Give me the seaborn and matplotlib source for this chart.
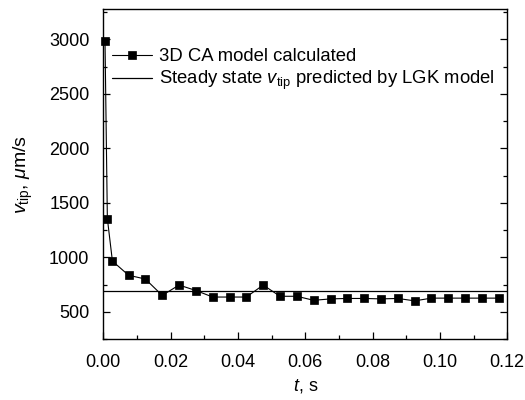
import matplotlib
matplotlib.use("Agg")
import matplotlib.pyplot as plt
import seaborn as sns
import pandas as pd
from matplotlib.ticker import MultipleLocator

t_values = [0.0005, 0.0012, 0.0027, 0.0075, 0.0125, 0.0175, 0.0225, 0.0275, 0.0325,
            0.0375, 0.0425, 0.0475, 0.0525, 0.0575, 0.0625, 0.0675, 0.0725, 0.0775,
            0.0825, 0.0875, 0.0925, 0.0975, 0.1025, 0.1075, 0.1125, 0.1175]
v_values = [2985, 1355, 965, 835, 800, 650, 745, 695, 635, 635, 635, 745, 642, 642,
            605, 618, 622, 622, 618, 622, 600, 625, 625, 625, 625, 625]
lgk_value = 688

sns.set_theme(style="ticks")
plt.rcParams['font.family'] = ['Liberation Sans', 'DejaVu Sans']
plt.rcParams['mathtext.fontset'] = 'custom'
plt.rcParams['mathtext.rm'] = 'Liberation Sans'
plt.rcParams['mathtext.it'] = 'Liberation Sans:italic'
plt.rcParams['text.color'] = 'black'
plt.rcParams['axes.labelcolor'] = 'black'
plt.rcParams['xtick.color'] = 'black'
plt.rcParams['ytick.color'] = 'black'

df = pd.DataFrame({"t": t_values, "v": v_values})

fig = plt.figure(figsize=(5.25, 4), dpi=100)
ax = fig.add_axes([0.1968, 0.1525, 0.7693, 0.8242])

sns.lineplot(data=df, x="t", y="v", ax=ax, color="black", marker="s", markersize=6.3,
             markeredgecolor="black", markeredgewidth=0.5, linewidth=0.8,
             label="3D CA model calculated", clip_on=False, zorder=3)
ax.axhline(lgk_value, color="black", linewidth=0.9,
           label=r"Steady state $v_{\mathrm{tip}}$ predicted by LGK model")

ax.set_xlim(0, 0.12)
ax.set_ylim(250, 3275)
ax.xaxis.set_major_locator(MultipleLocator(0.02))
ax.xaxis.set_minor_locator(MultipleLocator(0.01))
ax.yaxis.set_major_locator(MultipleLocator(500))
ax.yaxis.set_minor_locator(MultipleLocator(250))
ax.xaxis.set_major_formatter(matplotlib.ticker.FormatStrFormatter('%.2f'))

ax.tick_params(which="both", direction="in", right=True, top=False, labelsize=13,
               width=0.9, color="black", labelcolor="black")
ax.tick_params(which="major", length=5)
ax.tick_params(axis="y", which="major", pad=10)
ax.tick_params(axis="x", which="major", pad=11)
ax.tick_params(which="minor", length=3)
for s in ax.spines.values():
    s.set_linewidth(1.0)
    s.set_color("black")
    s.set_visible(True)

ax.set_xlabel(r"$t$, s", fontsize=13, labelpad=4)
ax.set_ylabel(r"$v_{\mathrm{tip}}$, $\mathit{μ}$m/s", fontsize=14, labelpad=10)

ax.legend(loc="upper left", bbox_to_anchor=(0.021, 0.882), frameon=False, fontsize=13.3,
          handlelength=2.2, handletextpad=0.35, labelspacing=0.2, borderaxespad=0,
          borderpad=0, markerscale=1.0)

fig.savefig("out.png", dpi=100)
